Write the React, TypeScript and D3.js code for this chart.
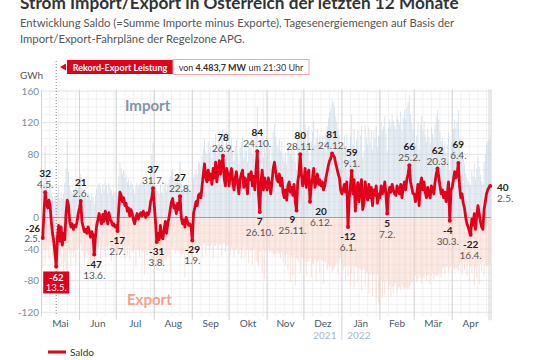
import * as d3 from 'd3';

// Saldo (GWh per day), 2.5.2021 - 2.5.2022
const saldoMai21 = [-26, 5, 32, 18, 12, 22, 15, -5, -20, -30, -45, -62, -25, -10, -30, -12, -35, -20, -28, 5, 22, 15, -5, -12, -8, -15, -10, -12, -5, 5];
const saldoJun21 = [12, 21, -5, -12, -18, -15, -20, -12, -18, -25, -18, -22, -47, -25, -10, -3, 5, -2, -8, 4, -5, 8, 3, -8, 6, -2, -5, -10, -8, -12];
const saldoJul21 = [-10, -17, 10, 32, 28, 20, 25, 15, 18, 8, 12, 2, 10, 5, -3, -8, 0, 5, -2, 3, 6, 2, 8, 4, 0, 6, 3, 8, 20, 25, 37];
const saldoAug21 = [15, -5, -31, -20, -28, -10, -25, -27, -15, -5, -20, -8, 0, 10, 20, 24, 12, 15, 5, 18, 10, 27, 0, -8, -3, -12, 0, -5, -10, -8, -12];
const saldoSep21 = [-29, 5, 12, 20, 15, 28, 30, 25, 40, 55, 68, 50, 45, 60, 48, 55, 42, 62, 50, 70, 45, 58, 72, 55, 65, 78, 50, 40, 62, 55];
const saldoOkt21 = [40, 55, 62, 45, 35, 50, 58, 42, 30, 48, 55, 60, 38, 50, 45, 30, 55, 48, 58, 40, 52, 35, 60, 84, 30, 7, 45, 60, 35, 50, 40];
const saldoNov21 = [35, 50, 42, 30, 45, 62, 70, 58, 48, 45, 55, 40, 50, 32, 25, 35, 22, 40, 45, 32, 38, 28, 42, 20, 9, 45, 55, 80, 55, 40];
const saldoDez21 = [45, 62, 38, 55, 60, 20, 40, 50, 62, 38, 45, 55, 42, 48, 40, 45, 35, 40, 50, 58, 66, 72, 75, 81, 79, 76, 68, 62, 55, 50, 35];
const saldoJan22 = [30, 35, 42, 32, 45, -12, 25, 40, 59, 30, 48, 8, 35, 44, 20, 38, 48, 10, 18, 45, 30, 22, 42, 25, 38, 15, 35, 28, 40, 18, 30];
const saldoFeb22 = [25, 40, 30, 35, 45, 28, 5, 30, 38, 32, 42, 35, 30, 28, 40, 35, 30, 42, 25, 38, 45, 35, 48, 55, 66, 45, 38, 30];
const saldoMar22 = [30, 20, 28, 42, 15, 42, 50, 35, 45, 32, 25, 38, 30, 25, 40, 35, 30, 45, 55, 62, 52, 40, 30, 35, 25, 32, 20, 30, 45, -4, 35];
const saldoApr22 = [38, 48, 58, 50, 55, 69, 40, 25, 30, 18, 12, 0, -8, -12, -18, -22, -2, -10, 5, -15, 2, 15, 5, -5, -12, -15, 10, 20, 30, 35];
const saldoMai22 = [38, 40];

// Importe (GWh per day)
const impMai21 = [38, 52, 90, 60, 42, 35, 48, 30, 26, 22, 28, 18, 30, 38, 25, 32, 24, 30, 44, 62, 97, 58, 40, 34, 30, 36, 32, 38, 30, 42];
const impJun21 = [48, 55, 36, 30, 26, 32, 24, 30, 28, 22, 30, 26, 18, 28, 36, 40, 44, 38, 30, 42, 35, 46, 40, 30, 44, 38, 34, 28, 32, 30];
const impJul21 = [35, 28, 52, 70, 62, 55, 60, 50, 54, 45, 48, 40, 46, 42, 36, 30, 40, 44, 38, 42, 46, 40, 48, 44, 38, 46, 42, 50, 65, 80, 95];
const impAug21 = [62, 40, 28, 34, 30, 42, 32, 30, 38, 44, 34, 42, 48, 52, 58, 62, 50, 54, 46, 56, 50, 70, 42, 36, 40, 34, 42, 38, 34, 36, 32];
const impSep21 = [28, 50, 55, 60, 56, 68, 70, 64, 78, 88, 100, 84, 80, 96, 82, 90, 76, 98, 86, 106, 78, 92, 108, 88, 100, 112, 84, 74, 98, 90];
const impOkt21 = [76, 92, 100, 84, 72, 90, 98, 80, 68, 88, 95, 102, 76, 90, 84, 70, 96, 88, 100, 80, 92, 74, 104, 140, 72, 50, 88, 104, 76, 92, 82];
const impNov21 = [78, 94, 86, 72, 90, 108, 118, 102, 92, 88, 100, 84, 96, 78, 70, 82, 68, 88, 94, 80, 86, 74, 92, 70, 60, 98, 110, 150, 104, 92];
const impDez21 = [98, 118, 90, 110, 116, 72, 96, 108, 122, 92, 100, 112, 96, 104, 94, 100, 88, 96, 108, 116, 126, 134, 138, 150, 146, 140, 128, 120, 110, 104, 86];
const impJan22 = [88, 94, 104, 90, 106, 62, 86, 104, 130, 92, 112, 70, 98, 110, 84, 104, 116, 76, 84, 116, 100, 92, 114, 96, 110, 86, 108, 100, 115, 90, 104];
const impFeb22 = [102, 120, 110, 116, 128, 106, 84, 114, 124, 118, 130, 122, 116, 112, 128, 124, 118, 134, 110, 126, 136, 124, 138, 146, 155, 130, 120, 112];
const impMar22 = [108, 94, 104, 120, 86, 118, 128, 110, 122, 104, 96, 112, 102, 94, 114, 106, 100, 118, 128, 136, 124, 108, 96, 100, 88, 96, 82, 92, 108, 60, 96];
const impApr22 = [100, 112, 124, 114, 120, 136, 100, 82, 88, 74, 68, 56, 50, 46, 42, 40, 60, 52, 68, 48, 62, 76, 64, 54, 46, 42, 70, 80, 92, 96];
const impMai22 = [98, 100];

// Exporte (GWh per day, negative)
const expMai21 = [-64, -40, -58, -42, -30, -52, -34, -36, -48, -52, -70, -62, -85, -60, -40, -62, -38, -70, -56, -66, -75, -40, -46, -62, -44, -50, -42, -58, -40, -38];
const expJun21 = [-36, -34, -42, -44, -56, -50, -44, -48, -46, -60, -50, -48, -65, -54, -44, -40, -38, -52, -40, -38, -42, -50, -36, -40, -36, -42, -55, -38, -42, -44];
const expJul21 = [-46, -48, -42, -38, -36, -44, -36, -52, -37, -48, -36, -55, -38, -44, -42, -40, -62, -40, -42, -50, -40, -44, -42, -72, -40, -48, -40, -44, -48, -58, -62];
const expAug21 = [-50, -48, -62, -56, -58, -55, -60, -58, -56, -52, -54, -50, -48, -70, -38, -38, -40, -46, -42, -40, -42, -44, -48, -46, -44, -76, -44, -46, -48, -45, -48];
const expSep21 = [-58, -45, -42, -40, -48, -38, -40, -36, -50, -34, -32, -46, -35, -36, -44, -36, -34, -52, -36, -36, -33, -40, -36, -34, -48, -34, -34, -44, -36, -35];
const expOkt21 = [-36, -48, -38, -40, -50, -40, -40, -38, -46, -40, -52, -42, -38, -50, -40, -40, -58, -40, -42, -60, -40, -39, -54, -56, -62, -44, -42, -70, -40, -78, -42];
const expNov21 = [-44, -40, -45, -42, -44, -46, -48, -44, -45, -43, -46, -52, -44, -56, -48, -60, -46, -66, -48, -82, -50, -74, -50, -86, -52, -54, -56, -70, -50, -52];
const expDez21 = [-53, -56, -72, -55, -56, -52, -76, -58, -60, -54, -80, -57, -54, -70, -54, -55, -84, -56, -58, -66, -60, -62, -63, -69, -67, -64, -60, -58, -72, -54, -51];
const expJan22 = [-58, -66, -62, -80, -61, -74, -61, -86, -71, -62, -90, -62, -63, -82, -64, -66, -92, -66, -66, -88, -70, -70, -96, -71, -72, -100, -73, -72, -104, -72, -108];
const expFeb22 = [-110, -80, -102, -81, -98, -78, -79, -92, -86, -100, -88, -96, -86, -82, -94, -89, -88, -92, -85, -88, -91, -89, -90, -91, -89, -85, -82, -82];
const expMar22 = [-78, -74, -82, -78, -71, -76, -84, -75, -77, -72, -80, -74, -72, -84, -74, -71, -78, -73, -73, -74, -72, -68, -76, -65, -63, -72, -62, -62, -70, -64, -61];
const expApr22 = [-62, -64, -66, -64, -65, -67, -60, -57, -72, -56, -66, -56, -74, -58, -80, -62, -70, -62, -86, -63, -76, -61, -84, -59, -68, -57, -74, -60, -62, -61];
const expMai22 = [-60, -60];

const monthNames = ['Mai', 'Jun', 'Jul', 'Aug', 'Sep', 'Okt', 'Nov', 'Dez', 'Jän', 'Feb', 'Mär', 'Apr'];
// 40 is hidden behind the 4.5. label in the original
const yTicks = [-120, -80, -40, 0, 80, 120, 160];

// markierte Extremwerte
const annotations = [
    { date: '2021-05-04', label: '4.5.', side: 'above', dx: 0 },
    { date: '2021-06-02', label: '2.6.', side: 'above', dx: 0 },
    { date: '2021-06-13', label: '13.6.', side: 'below', dx: 0 },
    { date: '2021-07-02', label: '2.7.', side: 'below', dx: 0 },
    { date: '2021-07-31', label: '31.7.', side: 'above', dx: 0 },
    { date: '2021-08-03', label: '3.8.', side: 'below', dx: 0 },
    { date: '2021-08-22', label: '22.8.', side: 'above', dx: 0 },
    { date: '2021-09-01', label: '1.9.', side: 'below', dx: 0 },
    { date: '2021-09-26', label: '26.9.', side: 'above', dx: 0 },
    { date: '2021-10-24', label: '24.10.', side: 'above', dx: 0 },
    { date: '2021-10-26', label: '26.10.', side: 'below', dx: 0 },
    { date: '2021-11-25', label: '25.11.', side: 'below', dx: -4 },
    { date: '2021-11-28', label: '28.11.', side: 'above', dx: 0 },
    { date: '2021-12-06', label: '6.12.', side: 'below', dx: 11 },
    { date: '2021-12-24', label: '24.12.', side: 'above', dx: 0 },
    { date: '2022-01-06', label: '6.1.', side: 'below', dx: 0 },
    { date: '2022-01-09', label: '9.1.', side: 'above', dx: 0 },
    { date: '2022-02-07', label: '7.2.', side: 'below', dx: 0 },
    { date: '2022-02-25', label: '25.2.', side: 'above', dx: 0 },
    { date: '2022-03-20', label: '20.3.', side: 'above', dx: 0 },
    { date: '2022-03-30', label: '30.3.', side: 'below', dx: -2 },
    { date: '2022-04-06', label: '6.4.', side: 'above', dx: 0 },
    { date: '2022-04-16', label: '16.4.', side: 'below', dx: 0 },
    { date: '2021-05-02', label: '2.5.', side: 'left', dx: 0 },
    { date: '2022-05-02', label: '2.5.', side: 'right', dx: 0 },
];
const recordDate = '2021-05-13';
const recordLabel = '13.5.';

const saldo = [...saldoMai21, ...saldoJun21, ...saldoJul21, ...saldoAug21, ...saldoSep21, ...saldoOkt21, ...saldoNov21, ...saldoDez21, ...saldoJan22, ...saldoFeb22, ...saldoMar22, ...saldoApr22, ...saldoMai22];
const imports = [...impMai21, ...impJun21, ...impJul21, ...impAug21, ...impSep21, ...impOkt21, ...impNov21, ...impDez21, ...impJan22, ...impFeb22, ...impMar22, ...impApr22, ...impMai22];
const exports = [...expMai21, ...expJun21, ...expJul21, ...expAug21, ...expSep21, ...expOkt21, ...expNov21, ...expDez21, ...expJan22, ...expFeb22, ...expMar22, ...expApr22, ...expMai22];

const parse = d3.timeParse('%Y-%m-%d');
const startDay = parse('2021-05-02') as Date;
const days = saldo.map((v, i) => ({
    date: d3.timeDay.offset(startDay, i),
    saldo: v,
    imp: imports[i],
    exp: exports[i],
}));

const FONT = 'Lato, "Open Sans", sans-serif';
const RED = '#e3001b';

export default function App() {
    const x = d3
        .scaleTime()
        .domain([new Date(2021, 4, 1), new Date(2022, 4, 1)])
        .range([41.5, 489]);
    const y = d3.scaleLinear().domain([-125, 162]).range([316.25, 89.5]);
    const left = 41.5;
    const right = 491;
    const top = y(162);
    const bottom = y(-125);

    const months = d3.timeMonth.range(new Date(2021, 4, 1), new Date(2022, 4, 2));
    const weeks = d3.timeDay.every(7)!.range(new Date(2021, 4, 4), new Date(2022, 4, 1));
    const minorY = d3.range(-120, 161, 10);

    const line = d3
        .line<(typeof days)[number]>()
        .x((d) => x(d.date))
        .y((d) => y(d.saldo));

    const bw = 0.9;
    const findDay = (s: string) => {
        const t = (parse(s) as Date).getTime();
        return days.find((d) => d.date.getTime() === t)!;
    };
    const rec = findDay(recordDate);

    return (
        <div style={{ position: 'absolute', left: 0, top: 0 }}>
            <svg width={540} height={360} fontFamily={FONT} style={{ display: 'block' }}>
                <rect width={540} height={360} fill="#fff" />
                {/* Titel */}
                <text x={20} y={9} fontSize={17.2} fontWeight={700} fill="#333">
                    Strom Import/Export in Österreich der letzten 12 Monate
                </text>
                <text x={20} y={27} fontSize={11.3} fill="#555">
                    Entwicklung Saldo (=Summe Importe minus Exporte), Tagesenergiemengen auf Basis der
                </text>
                <text x={20} y={43} fontSize={11.3} fill="#555">
                    Import/Export-Fahrpläne der Regelzone APG.
                </text>

                {/* Raster */}
                <g>
                    {minorY.map((v) => (
                        <line key={'h' + v} x1={left} x2={right} y1={y(v)} y2={y(v)}
                            stroke={v % 40 === 0 ? '#dcdcdc' : '#eeeeee'} strokeWidth={0.8} />
                    ))}
                    {weeks.map((d, i) => (
                        <line key={'w' + i} x1={x(d)} x2={x(d)} y1={top} y2={bottom} stroke="#eeeeee" strokeWidth={0.8} />
                    ))}
                    {months.map((d, i) => (
                        <line key={'m' + i} x1={x(d)} x2={x(d)} y1={top}
                            y2={i === 0 ? bottom : d.getMonth() === 0 ? 340 : bottom + 4}
                            stroke="#cfcfcf" strokeWidth={0.9} />
                    ))}
                    <line x1={right} x2={right} y1={top} y2={bottom + 4} stroke="#cfcfcf" strokeWidth={0.9} />
                </g>

                {/* Import / Export Balken */}
                <g>
                    {days.map((d, i) => (
                        <rect key={'i' + i} x={x(d.date) - bw / 2} width={bw} y={y(d.imp)} height={y(0) - y(d.imp)}
                            fill="#c6d5e2" opacity={0.7} />
                    ))}
                    {days.map((d, i) => (
                        <rect key={'e' + i} x={x(d.date) - bw / 2} width={bw} y={y(0)} height={y(d.exp) - y(0)}
                            fill="#f6d0c5" opacity={0.7} />
                    ))}
                </g>
                <line x1={left} x2={right} y1={y(0)} y2={y(0)} stroke="#a0a0a0" strokeWidth={1} />

                <text x={125} y={111} fontSize={15} fontWeight={700} fill="#8294a8">Import</text>
                <text x={127} y={305} fontSize={15} fontWeight={700} fill="#f4a08c">Export</text>

                {/* Achsen */}
                {yTicks.map((v) => (
                    <text key={'yt' + v} x={39} y={y(v)} dy="0.35em" textAnchor="end" fontSize={10} fill="#7a8c9e">
                        {v}
                    </text>
                ))}
                <text x={20} y={79} fontSize={10} fill="#555">GWh</text>
                {months.slice(0, 12).map((d, i) => {
                    const next = d3.timeMonth.offset(d, 1);
                    const cx = (x(d) + x(next)) / 2;
                    return (
                        <text key={'ml' + i} x={cx} y={327} textAnchor="middle" fontSize={10} fill="#4b5a69">
                            {monthNames[i]}
                        </text>
                    );
                })}
                <text x={(x(new Date(2021, 11, 1)) + x(new Date(2022, 0, 1))) / 2 + 2} y={339} textAnchor="middle" fontSize={10} fill="#a9b6c3">2021</text>
                <text x={(x(new Date(2022, 0, 1)) + x(new Date(2022, 1, 1))) / 2 - 2} y={339} textAnchor="middle" fontSize={10} fill="#a9b6c3">2022</text>

                {/* Rekord-Export Markierung */}
                <line x1={x(rec.date)} x2={x(rec.date)} y1={61} y2={bottom} stroke="#666" strokeWidth={0.8} strokeDasharray="1,2" />
                <path d={`M60,67 L66,63.5 L66,70.5 Z`} fill={RED} />
                <rect x={67} y={60} width={106} height={14} fill={RED} />
                <text x={120} y={70.5} textAnchor="middle" fontSize={9} fontWeight={700} fill="#fff">Rekord-Export Leistung</text>
                <rect x={173} y={59.5} width={136} height={15} fill="#fff" stroke="#f2a6ae" strokeWidth={1} />
                <text x={241} y={70.5} textAnchor="middle" fontSize={9} fill="#333">
                    von <tspan fontWeight={700}>4.483,7 MW</tspan> um 21:30 Uhr
                </text>

                {/* Saldo Linie */}
                <path d={line(days) ?? ''} fill="none" stroke={RED} strokeWidth={2.8} strokeLinejoin="round" />

                {/* Beschriftungen */}
                {annotations.map((a, i) => {
                    const d = findDay(a.date);
                    const px = x(d.date);
                    const py = y(d.saldo);
                    let tx = px + a.dx;
                    let v1 = py - 15;
                    let gap = 11;
                    let fs = 10;
                    let anchor: 'middle' | 'end' | 'start' = 'middle';
                    if (a.side === 'below') v1 = py + 13;
                    if (a.side === 'left') {
                        tx = 40;
                        anchor = 'end';
                        v1 = py - 6;
                        gap = 9.5;
                        fs = 9.5;
                    }
                    if (a.side === 'right') {
                        tx = 497;
                        anchor = 'start';
                        v1 = py + 5;
                    }
                    return (
                        <g key={'a' + i}>
                            <circle cx={px} cy={py} r={2} fill={RED} />
                            <text x={tx} y={v1} textAnchor={anchor} fontSize={fs} fontWeight={700} fill="#222">
                                {d.saldo}
                            </text>
                            <text x={tx} y={v1 + gap} textAnchor={anchor} fontSize={fs} fill="#555">
                                {a.label}
                            </text>
                        </g>
                    );
                })}
                <circle cx={x(rec.date)} cy={y(rec.saldo)} r={2} fill={RED} />
                <rect x={x(rec.date) - 13} y={y(rec.saldo) + 5} width={26} height={22} fill={RED} />
                <text x={x(rec.date)} y={y(rec.saldo) + 15} textAnchor="middle" fontSize={9.5} fontWeight={700} fill="#fff">
                    {rec.saldo}
                </text>
                <text x={x(rec.date)} y={y(rec.saldo) + 25} textAnchor="middle" fontSize={9.5} fill="#fff">
                    {recordLabel}
                </text>

                {/* Legende */}
                <line x1={48} x2={66} y1={352} y2={352} stroke={RED} strokeWidth={3} />
                <text x={70} y={355.5} fontSize={10} fill="#333">Saldo</text>
            </svg>
        </div>
    );
}
